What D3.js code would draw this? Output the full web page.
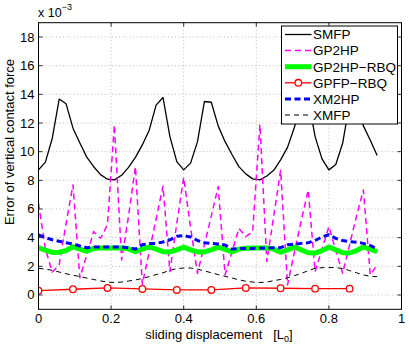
<!DOCTYPE html>
<html>
<head>
<meta charset="utf-8">
<script src="https://cdn.jsdelivr.net/npm/d3@7"></script>
<style>
  body { margin: 0; background: #fff; }
  text { font-family: "Liberation Sans", Arial, Helvetica, sans-serif; }
</style>
</head>
<body>
<div id="plot"></div>
<script>
// sample positions along the sliding displacement [L0]
const xs = [0, 0.019, 0.038, 0.057, 0.076, 0.095, 0.114, 0.133, 0.152, 0.171,
            0.190, 0.209, 0.229, 0.248, 0.267, 0.286, 0.305, 0.324, 0.343, 0.362,
            0.381, 0.400, 0.419, 0.438, 0.457, 0.476, 0.495, 0.514, 0.533, 0.552,
            0.571, 0.590, 0.610, 0.629, 0.648, 0.667, 0.686, 0.705, 0.724, 0.743,
            0.762, 0.781, 0.800, 0.819, 0.838, 0.857, 0.876, 0.895, 0.914, 0.933];

// values in units of 1e-3
const smfp = [8.73, 9.27, 10.94, 13.67, 13.34, 11.64, 10.6, 9.62, 8.95, 8.4,
              8.08, 8.03, 8.35, 8.9, 9.6, 10.47, 11.5, 13.25, 13.78, 11.05,
              9.31, 8.73, 9.2, 10.7, 13.5, 13.45, 11.8, 10.7, 9.8, 8.96,
              8.45, 8.1, 8.03, 8.3, 8.7, 9.43, 10.3, 11.7, 13.3, 13.7,
              11.05, 9.5, 8.73, 9.1, 10.6, 13.4, 13.4, 11.8, 10.8, 9.73];

const gp2hp = [6.4, 3.2, 1.6, 2.1, 5.0, 7.68, 1.2, 2.8, 4.42, 3.96,
               4.9, 11.87, 2.44, 5.5, 8.96, 0.75, 3.0, 5.3, 7.6, 1.63,
               5.0, 8.2, 4.7, 1.51, 3.5, 5.5, 7.56, 1.4, 3.0, 4.65,
               4.07, 4.42, 11.9, 2.33, 5.5, 8.7, 0.7, 3.0, 5.2, 7.33,
               1.63, 3.2, 4.77, 3.1, 1.51, 3.5, 5.5, 7.33, 1.4, 2.1];

const gp2hpRbq = [3.3, 3.12, 2.97, 2.98, 3.1, 3.36, 3.2, 3.05, 3.25, 3.28,
                  3.28, 3.28, 3.28, 3.22, 3.02, 3.2, 3.35, 3.2, 3.02, 3.0,
                  3.15, 3.34, 3.15, 3.0, 3.0, 3.15, 3.34, 3.18, 3.0, 3.2,
                  3.26, 3.28, 3.28, 3.28, 3.2, 2.98, 3.15, 3.34, 3.15, 2.95,
                  2.92, 3.1, 3.34, 3.15, 2.95, 2.93, 3.1, 3.34, 3.2, 3.03];

const xm2hp = [4.19, 4.0, 3.85, 3.75, 3.65, 3.56, 3.42, 3.3, 3.35, 3.35,
               3.35, 3.35, 3.35, 3.3, 3.2, 3.5, 3.6, 3.6, 3.7, 3.85,
               4.1, 4.15, 4.05, 3.8, 3.65, 3.6, 3.55, 3.49, 3.2, 3.25,
               3.25, 3.25, 3.26, 3.28, 3.3, 3.3, 3.5, 3.55, 3.6, 3.65,
               3.8, 4.05, 4.2, 3.95, 3.8, 3.72, 3.68, 3.6, 3.45, 3.21];

const xmfp = [1.86, 1.8, 1.72, 1.6, 1.48, 1.38, 1.28, 1.18, 1.08, 0.98,
              0.9, 0.87, 0.9, 0.97, 1.05, 1.15, 1.28, 1.42, 1.55, 1.72,
              1.84, 1.88, 1.88, 1.8, 1.68, 1.55, 1.42, 1.3, 1.18, 1.06,
              0.96, 0.9, 0.87, 0.9, 1.0, 1.08, 1.2, 1.35, 1.5, 1.7,
              1.86, 1.9, 1.92, 1.9, 1.85, 1.7, 1.55, 1.4, 1.3, 1.28];

// GPFP-RBQ only has marker samples
const gpfpX = [0, 0.095, 0.190, 0.286, 0.381, 0.476, 0.571, 0.667, 0.762, 0.857];
const gpfpRbq = [0.3, 0.4, 0.49, 0.42, 0.35, 0.35, 0.49, 0.47, 0.44, 0.44];

const xTicks = [0, 0.2, 0.4, 0.6, 0.8, 1];
const yTicks = [0, 2, 4, 6, 8, 10, 12, 14, 16, 18];
const seriesNames = ["SMFP", "GP2HP", "GP2HP\u2212RBQ", "GPFP\u2212RBQ", "XM2HP", "XMFP"];

const W = 409, H = 348;
const plot = {left: 38.5, right: 401.5, top: 22.7, bottom: 309.3};

const svg = d3.select("#plot")
    .append("svg")
    .attr("width", W)
    .attr("height", H);

const x = d3.scaleLinear().domain([0, 1]).range([plot.left, plot.right]);
const y = d3.scaleLinear().domain([-1, 19]).range([plot.bottom, plot.top]);

// grid
svg.append("g").selectAll("line").data(xTicks.slice(1, -1)).join("line")
    .attr("x1", d => x(d)).attr("x2", d => x(d))
    .attr("y1", plot.top).attr("y2", plot.bottom)
    .attr("stroke", "#aaa").attr("stroke-width", 0.8).attr("stroke-dasharray", "1,2.5");
svg.append("g").selectAll("line").data(yTicks).join("line")
    .attr("x1", plot.left).attr("x2", plot.right)
    .attr("y1", d => y(d)).attr("y2", d => y(d))
    .attr("stroke", "#aaa").attr("stroke-width", 0.8).attr("stroke-dasharray", "1,2.5");

// ticks (inward, on all four sides)
const tl = 4;
const tickG = svg.append("g").attr("stroke", "#000").attr("stroke-width", 0.8);
xTicks.forEach(t => {
    tickG.append("line").attr("x1", x(t)).attr("x2", x(t)).attr("y1", plot.bottom).attr("y2", plot.bottom - tl);
    tickG.append("line").attr("x1", x(t)).attr("x2", x(t)).attr("y1", plot.top).attr("y2", plot.top + tl);
});
yTicks.forEach(t => {
    tickG.append("line").attr("x1", plot.left).attr("x2", plot.left + tl).attr("y1", y(t)).attr("y2", y(t));
    tickG.append("line").attr("x1", plot.right).attr("x2", plot.right - tl).attr("y1", y(t)).attr("y2", y(t));
});

// tick labels
svg.append("g").selectAll("text").data(xTicks).join("text")
    .attr("x", d => x(d)).attr("y", plot.bottom + 14)
    .attr("text-anchor", "middle").attr("font-size", 13)
    .text(d => d);
svg.append("g").selectAll("text").data(yTicks).join("text")
    .attr("x", plot.left - 4).attr("y", d => y(d) + 4.5)
    .attr("text-anchor", "end").attr("font-size", 13)
    .text(d => d);

// exponent note
const expo = svg.append("text").attr("x", 38).attr("y", 17).attr("font-size", 12.5);
expo.append("tspan").text("x 10");
expo.append("tspan").attr("dy", -7).attr("font-size", 9).text("\u22123");

// axis labels
const xl = svg.append("text").attr("x", 219).attr("y", 339)
    .attr("text-anchor", "middle").attr("font-size", 13);
xl.append("tspan").text("sliding displacement\u00a0\u00a0\u00a0[L");
xl.append("tspan").attr("dy", 3).attr("font-size", 9).text("0");
xl.append("tspan").attr("dy", -3).text("]");

svg.append("text")
    .attr("transform", "translate(14,142) rotate(-90)")
    .attr("text-anchor", "middle").attr("font-size", 13)
    .text("Error of vertical contact force");

// series
const line = d3.line().x(d => x(d[0])).y(d => y(d[1]));
const pts = vals => vals.map((v, i) => [xs[i], v]);

const styles = [
    {data: pts(smfp), color: "#000", width: 1.3, dash: null},
    {data: pts(gp2hp), color: "#ff00ff", width: 1.5, dash: "6,4"},
    {data: pts(gp2hpRbq), color: "#00ff00", width: 5, dash: null},
    {data: gpfpX.map((v, i) => [v, gpfpRbq[i]]), color: "#ff0000", width: 1.3, dash: null, marker: true},
    {data: pts(xm2hp), color: "#0000ff", width: 3, dash: "6,3.5"},
    {data: pts(xmfp), color: "#000", width: 1, dash: "5,4"}
];

svg.append("clipPath").attr("id", "clip").append("rect")
    .attr("x", plot.left).attr("y", plot.top)
    .attr("width", plot.right - plot.left).attr("height", plot.bottom - plot.top);

const lines = svg.append("g").attr("clip-path", "url(#clip)");
styles.forEach(s => {
    lines.append("path")
        .attr("d", line(s.data))
        .attr("fill", "none")
        .attr("stroke", s.color)
        .attr("stroke-width", s.width)
        .attr("stroke-dasharray", s.dash)
        .attr("stroke-linejoin", "round");
    if (s.marker) {
        lines.selectAll(null).data(s.data).join("circle")
            .attr("cx", d => x(d[0])).attr("cy", d => y(d[1])).attr("r", 3.3)
            .attr("fill", "#fff").attr("stroke", s.color).attr("stroke-width", 1.3);
    }
});

// axes box
svg.append("rect")
    .attr("x", plot.left).attr("y", plot.top)
    .attr("width", plot.right - plot.left).attr("height", plot.bottom - plot.top)
    .attr("fill", "none").attr("stroke", "#000").attr("stroke-width", 1);

// legend
const leg = svg.append("g");
leg.append("rect")
    .attr("x", 281.5).attr("y", 26).attr("width", 116).attr("height", 98)
    .attr("fill", "#fff").attr("stroke", "#000").attr("stroke-width", 1);
seriesNames.forEach((name, k) => {
    const s = styles[k];
    const ly = 34.5 + k * 16.1;
    leg.append("line")
        .attr("x1", 285).attr("x2", 311.5).attr("y1", ly).attr("y2", ly)
        .attr("stroke", s.color).attr("stroke-width", s.width)
        .attr("stroke-dasharray", s.dash);
    if (s.marker) {
        leg.append("circle").attr("cx", 298.3).attr("cy", ly).attr("r", 3.3)
            .attr("fill", "#fff").attr("stroke", s.color).attr("stroke-width", 1.3);
    }
    leg.append("text")
        .attr("x", 313).attr("y", ly + 4.8)
        .attr("font-size", 13.5)
        .text(name);
});
</script>
</body>
</html>
